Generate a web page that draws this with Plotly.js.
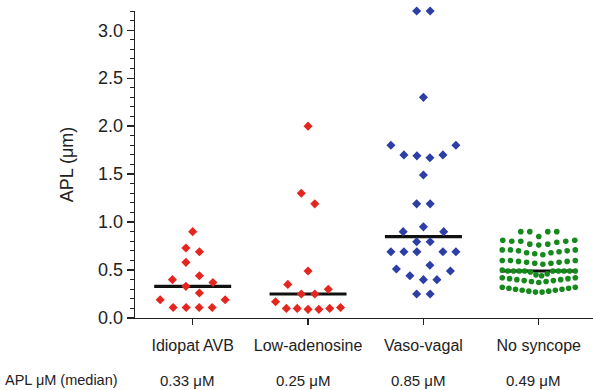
<!DOCTYPE html>
<html><head><meta charset="utf-8">
<script src="https://cdn.plot.ly/plotly-3.0.1.min.js"></script>
<style>html,body{margin:0;padding:0;background:#fff;} #chart{width:593px;height:390px;}</style>
</head><body><div id="chart"></div>
<script>
// ---- data ----
const categories = ['Idiopat AVB', 'Low-adenosine', 'Vaso-vagal', 'No syncope'];
const idiopatAVB = [0.90, 0.73, 0.69, 0.58, 0.44, 0.40, 0.37, 0.33, 0.26, 0.19, 0.19, 0.11, 0.11, 0.11, 0.11];
const lowAdenosine = [2.00, 1.30, 1.19, 0.49, 0.35, 0.30, 0.25, 0.25, 0.17, 0.11, 0.10, 0.10, 0.10, 0.09, 0.09];
const vasoVagal = [3.20, 3.20, 2.30, 1.80, 1.80, 1.70, 1.70, 1.69, 1.67, 1.49, 1.19, 1.19, 0.95, 0.90, 0.90,
  0.795, 0.795, 0.69, 0.69, 0.69, 0.69, 0.69, 0.55, 0.51, 0.49, 0.44, 0.40, 0.40, 0.25, 0.25];
const noSyncope = [
  0.90, 0.90, 0.90, 0.90, 0.85,
  0.81, 0.81, 0.80, 0.80, 0.80, 0.79, 0.77, 0.77, 0.76,
  0.71, 0.71, 0.71, 0.70, 0.70, 0.69, 0.68, 0.68, 0.67, 0.66,
  0.60, 0.60, 0.60, 0.59, 0.59, 0.58, 0.58, 0.57, 0.57, 0.56,
  0.50, 0.49, 0.49, 0.49, 0.49, 0.49, 0.49, 0.49, 0.49, 0.49, 0.48, 0.46, 0.45, 0.44,
  0.42, 0.42, 0.41, 0.41, 0.40, 0.40, 0.39, 0.39, 0.38, 0.38, 0.37,
  0.32, 0.32, 0.31, 0.31, 0.30, 0.30, 0.29, 0.29, 0.28, 0.28, 0.27, 0.27];
const medianLabels = ['0.33 μM', '0.25 μM', '0.85 μM', '0.49 μM'];
const medianRowTitle = 'APL μM (median)';
const yTickVals = [0.0, 0.5, 1.0, 1.5, 2.0, 2.5, 3.0];

// ---- layout constants ----
const W = 593, H = 390;
const M = {l: 135, r: 0, t: 11, b: 72};
const xRange = [-0.5, 3.47];
const pxPerX = (W - M.l - M.r) / (xRange[1] - xRange[0]);

const groups = [
  {vals: idiopatAVB, color: '#e5251f', symbol: 'diamond', size: 7, binH: 0.143, dx: 13.5, maxW: 65},
  {vals: lowAdenosine, color: '#e5251f', symbol: 'diamond', size: 7, binH: 0.143, dx: 13.5, maxW: 65},
  {vals: vasoVagal, color: '#2d3fa5', symbol: 'diamond', size: 7, binH: 0.143, dx: 13.5, maxW: 65},
  {vals: noSyncope, color: '#16891c', symbol: 'circle', size: 5.6, binH: 0.065, dx: 9, maxW: 73}
];

// Prism-like column scatter: bin by value, lowest in centre, alternate outward
function swarm(values, binH, dx, maxW) {
  const idx = values.map((v, i) => i).sort((a, b) => values[a] - values[b]);
  const off = new Array(values.length).fill(0);
  let k = 0;
  while (k < idx.length) {
    const start = values[idx[k]];
    let j = k;
    while (j < idx.length && values[idx[j]] <= start + binH + 1e-9) j++;
    const bin = idx.slice(k, j), n = bin.length;
    const sp = n > 1 ? Math.min(dx, maxW / (n - 1)) : dx;
    bin.forEach((p, m) => {
      let slot;
      if (n % 2 === 1) slot = m === 0 ? 0 : (m % 2 === 1 ? (m + 1) / 2 : -(m / 2));
      else { const q = Math.floor(m / 2); slot = (m % 2 === 0 ? 1 : -1) * (q + 0.5); }
      off[p] = slot * sp;
    });
    k = j;
  }
  return off;
}
function median(a) {
  const s = a.slice().sort((x, y) => x - y), n = s.length;
  return n % 2 ? s[(n - 1) / 2] : (s[n / 2 - 1] + s[n / 2]) / 2;
}

const traces = [];
const halfLine = 38.5 / pxPerX;
groups.forEach((g, i) => {
  const m = median(g.vals);
  traces.push({x: [i - halfLine, i + halfLine], y: [m, m], mode: 'lines', type: 'scatter',
    line: {color: '#111', width: 3.2}, hoverinfo: 'skip', showlegend: false, cliponaxis: false});
});
groups.forEach((g, i) => {
  const off = swarm(g.vals, g.binH, g.dx, g.maxW);
  traces.push({x: g.vals.map((v, k) => i + off[k] / pxPerX), y: g.vals, mode: 'markers', type: 'scatter',
    marker: {color: g.color, symbol: g.symbol, size: g.size, line: {width: 0}},
    showlegend: false, cliponaxis: false});
});

const plotH = H - M.t - M.b;
const annRowY = (H - M.b - 380) / plotH;
const annotations = medianLabels.map((t, i) => ({
  text: t, xref: 'x', yref: 'paper', x: i, y: annRowY, xshift: -5, showarrow: false,
  xanchor: 'center', yanchor: 'middle', font: {size: 15, color: '#222'}
}));
annotations.push({text: medianRowTitle, xref: 'paper', yref: 'paper', x: (3 - M.l) / (W - M.l - M.r), y: annRowY,
  showarrow: false, xanchor: 'left', yanchor: 'middle', font: {size: 14.5, color: '#222'}});

const layout = {
  width: W, height: H, margin: M, paper_bgcolor: '#fff', plot_bgcolor: '#fff',
  font: {family: 'Liberation Sans, Arial, sans-serif', color: '#222'},
  showlegend: false,
  xaxis: {range: xRange, tickvals: [0, 1, 2, 3], ticktext: categories, showline: true, linecolor: '#222',
    linewidth: 1.3, ticks: 'outside', ticklen: 6, tickcolor: '#222', tickwidth: 1.3, showgrid: false,
    zeroline: false, tickfont: {size: 16, color: '#222'}, ticklabelstandoff: 6, fixedrange: true},
  yaxis: {range: [0, 3.2], tickvals: yTickVals, tickformat: '.1f', showline: true, linecolor: '#222',
    linewidth: 1.3, ticks: 'outside', ticklen: 7, tickcolor: '#222', tickwidth: 1.3, showgrid: false,
    zeroline: false, tickfont: {size: 18, color: '#222'},
    minor: {dtick: 0.1, ticks: 'outside', ticklen: 4, tickcolor: '#222', tickwidth: 1, showgrid: false},
    title: {text: 'APL (μm)', font: {size: 18, color: '#222'}, standoff: 19}, fixedrange: true},
  annotations: annotations
};
Plotly.newPlot('chart', traces, layout, {displayModeBar: false, staticPlot: true});
</script></body></html>
